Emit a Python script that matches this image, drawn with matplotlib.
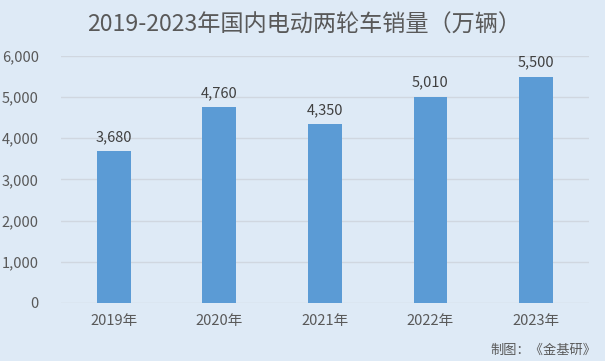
import matplotlib.pyplot as plt
import numpy as np

plt.rcParams['font.family'] = ['Noto Sans CJK SC', 'DejaVu Sans']

years = ['2019年', '2020年', '2021年', '2022年', '2023年']
sales = [3680, 4760, 4350, 5010, 5500]

bg = '#DEEAF6'
bar_color = '#5B9BD5'
text_color = '#595959'

fig = plt.figure(figsize=(6.05, 3.61), dpi=100, facecolor=bg)
ax = fig.add_axes([0.101, 0.161, 0.872, 0.684], facecolor=bg)

ind = np.arange(len(years))
rects = ax.bar(ind, sales, 0.32, color=bar_color, zorder=3)

ax.set_xlim(-0.5, len(years) - 0.5)
ax.set_ylim(0, 6000)
ax.set_yticks(np.arange(0, 6001, 1000))
ax.set_yticklabels(['{:,}'.format(v) for v in range(0, 6001, 1000)])
ax.set_xticks(ind)
ax.set_xticklabels(years)
ax.tick_params(axis='both', length=0, colors=text_color, labelsize=10.5)
ax.tick_params(axis='y', pad=16)
ax.tick_params(axis='x', pad=8)
ax.grid(axis='y', color='#D0D7E0', linewidth=1, zorder=0)
for s in ax.spines.values():
    s.set_visible(False)

# value labels
for rect in rects:
    h = rect.get_height()
    ax.annotate('{:,}'.format(int(h)), (rect.get_x() + rect.get_width() / 2, h),
                xytext=(0, 5), textcoords='offset points',
                ha='center', va='bottom', fontsize=10.5, color='#404040')

fig.text(0.502, 0.93, '2019-2023年国内电动两轮车销量（万辆）', ha='center', va='center',
         fontsize=16.7, color=text_color)
fig.text(0.985, 0.03, '制图：《金基研》', ha='right', va='center',
         fontsize=9.5, color=text_color)

fig.savefig('out.png', dpi=100, facecolor=bg)
